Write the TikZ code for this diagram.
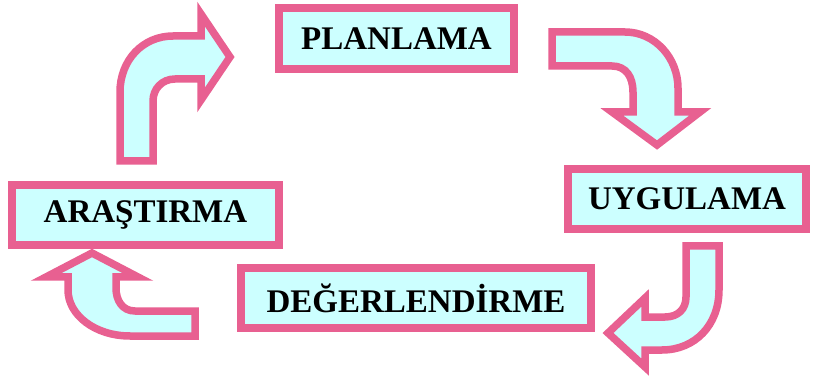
\documentclass[tikz,border=0pt]{standalone}
\usepackage{fontspec}
\setmainfont{Liberation Serif}
\definecolor{pinkline}{RGB}{232,96,145}
\definecolor{cyanfill}{RGB}{204,255,255}
\tikzset{
  labelbox/.style={draw=pinkline, fill=cyanfill, line width=8pt, inner sep=0pt,
    font=\fontsize{33}{40}\selectfont\bfseries, text=black},
  bentarrow/.style={draw=pinkline, fill=cyanfill, line width=7.5pt, line join=miter, miter limit=10}
}
\begin{document}
\begin{tikzpicture}[x=1pt,y=-1pt]
\useasboundingbox (0,0) rectangle (815,377);
% boxes
\node[labelbox, minimum width=235pt, minimum height=61pt] (plan) at (396.5,39) {PLANLAMA};
\node[labelbox, minimum width=238pt, minimum height=60pt] (uyg) at (687,199) {UYGULAMA};
\node[labelbox, minimum width=267pt, minimum height=60pt] (aras) at (145.5,215) {ARAŞTIRMA};
\node[labelbox, minimum width=350pt, minimum height=59pt] (deg) at (416,298) {DEĞERLENDİRME};
% arrow 1: ARASTIRMA -> PLANLAMA
\coordinate (a1) at (120,161);
\draw[bentarrow] (a1) -- (120,92) .. controls (120,60) and (143,36) .. (173,36)
  -- (201,36) -- (201,14) -- (230,57) -- (201,100) -- (201,79) -- (175,79)
  .. controls (162,79) and (153,89) .. (153,101) -- (153,161) -- cycle;
% arrow 2: PLANLAMA -> UYGULAMA
\coordinate (a2) at (552,32);
\draw[bentarrow] (a2) -- (625,32) .. controls (655,32) and (678,58) .. (678,88)
  -- (678,112) -- (700,112) -- (657,145) -- (612,112) -- (633,112) -- (633,92)
  .. controls (633,77) and (626,66) .. (612,66) -- (552,66) -- cycle;
% arrow 3: UYGULAMA -> DEGERLENDIRME
\coordinate (a3) at (686,246);
\draw[bentarrow] (a3) -- (719,246) -- (719,290) .. controls (719,325) and (695,350) .. (662,350)
  -- (645,350) -- (645,367) -- (608,333) -- (645,298) -- (645,317) -- (665,317)
  .. controls (678,317) and (686,309) .. (686,297) -- cycle;
% arrow 4: DEGERLENDIRME -> ARASTIRMA
\coordinate (a4) at (195,311);
\draw[bentarrow] (a4) -- (195,336) -- (130,336) .. controls (95,336) and (68,315) .. (68,290)
  -- (68,277) -- (46,277) -- (92,253) -- (138,277) -- (116,277) -- (116,288)
  .. controls (116,300) and (122,311) .. (135,311) -- cycle;
\end{tikzpicture}
\end{document}
